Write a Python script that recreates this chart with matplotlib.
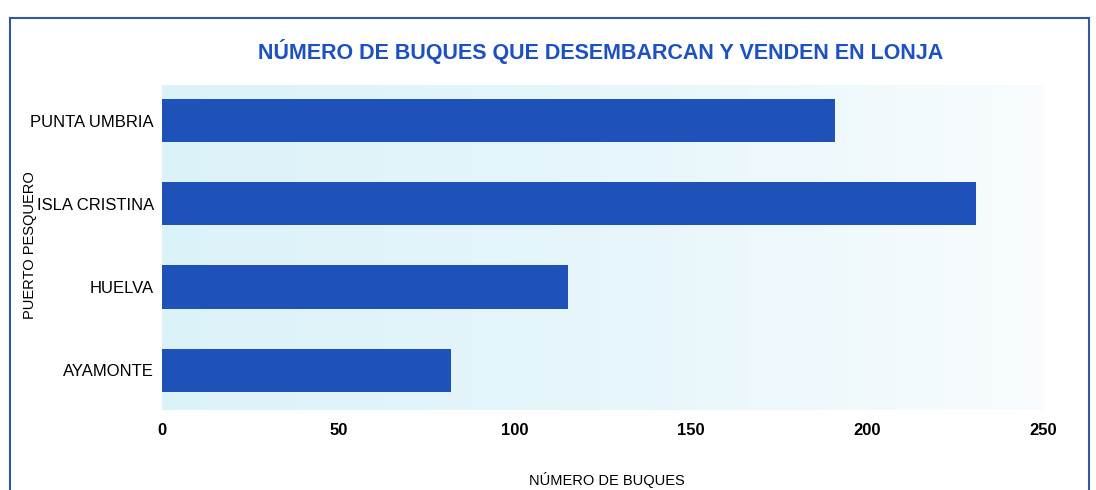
import numpy as np
import matplotlib
matplotlib.use('Agg')
import matplotlib.pyplot as plt
from matplotlib.lines import Line2D

# datos
puertos = ['AYAMONTE', 'HUELVA', 'ISLA CRISTINA', 'PUNTA UMBRIA']
buques = [82, 115, 231, 191]
ticks_x = [0, 50, 100, 150, 200, 250]

plt.rcParams['font.family'] = ['Liberation Sans Narrow', 'DejaVu Sans Condensed',
                               'Liberation Sans', 'DejaVu Sans']

fig = plt.figure(figsize=(10.96, 4.90), dpi=100)
ax = fig.add_axes([0.148, 0.163, 0.804, 0.664])

# fondo azul claro que se desvanece hacia la derecha
grad = np.linspace(0, 1, 256).reshape(1, -1)
cmap = matplotlib.colors.LinearSegmentedColormap.from_list(
    'fondo', ['#dcf2f9', '#e6f6fb', '#f8fcfe'])
ax.imshow(grad, extent=[0, 1, 0, 1], transform=ax.transAxes,
          cmap=cmap, aspect='auto', zorder=0)

y = np.arange(len(puertos))
ax.barh(y, buques, height=0.52, color='#1f52b9', zorder=2)

ax.set_xlim(0, 250)
ax.set_ylim(-0.48, 3.43)
ax.set_yticks(y)
ax.set_yticklabels(puertos, fontsize=12)
ax.set_xticks(ticks_x)
ax.set_xticklabels([str(t) for t in ticks_x], fontsize=12, fontweight='bold')
ax.tick_params(length=0, pad=6)
ax.tick_params(axis='x', pad=9)
for s in ax.spines.values():
    s.set_visible(False)

fig.text(0.554, 0.02, 'NÚMERO DE BUQUES', fontsize=10.5, ha='center', va='center')
fig.text(0.027, 0.50, 'PUERTO PESQUERO', rotation=90, fontsize=10.5,
         ha='center', va='center')

fig.text(0.548, 0.895, 'NÚMERO DE BUQUES QUE DESEMBARCAN Y VENDEN EN LONJA',
         fontsize=15.5, fontweight='bold', color='#1d50c2', ha='center', va='center')

# marco
marco = '#2f5b9e'
fig.add_artist(Line2D([0.009, 0.009], [0.0, 0.963], color=marco, lw=1.5))
fig.add_artist(Line2D([0.009, 0.994], [0.963, 0.963], color=marco, lw=1.5))
fig.add_artist(Line2D([0.994, 0.994], [0.0, 0.963], color=marco, lw=1.5))

fig.savefig('out.png', dpi=100)
